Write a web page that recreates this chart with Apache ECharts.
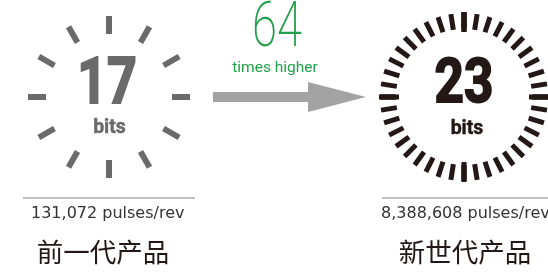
<!DOCTYPE html>
<html>
<head>
<meta charset="utf-8">
<script src="https://cdn.jsdelivr.net/npm/echarts@6/dist/echarts.min.js"></script>
<style>
  html, body { margin: 0; padding: 0; background: #fff; }
  #chart { width: 548px; height: 274px; }
</style>
</head>
<body>
<div id="chart"></div>
<script>
// data
var bits = [17, 23];
var tickCounts = [12, 40];
var pulses = ["131,072 pulses/rev", "8,388,608 pulses/rev"];
var products = ["前一代产品", "新世代产品"];
var ratio = ["64", "times higher"];

var green = "#23a04c";
var dark = "#231815";
var gray = "#6a6a6a";

var myChart = echarts.init(document.getElementById("chart"));

// one ring of ticks, drawn by a gauge with everything else switched off
function dial(center, radius, color, major, minor) {
  return {
    type: "gauge",
    center: center,
    radius: radius,
    startAngle: 90,
    endAngle: -270,
    min: 0,
    max: 100,
    splitNumber: major,
    animation: false,
    axisLine: { show: false, lineStyle: { width: 0 } },
    progress: { show: false },
    pointer: { show: false },
    axisLabel: { show: false },
    splitLine: {
      show: true,
      distance: 0,
      length: minor ? 20 : 18,
      lineStyle: { color: color, width: minor ? 5 : 6 },
    },
    axisTick: {
      show: !!minor,
      splitNumber: minor || 1,
      distance: 1,
      length: 16,
      lineStyle: { color: color, width: 5 },
    },
    title: { show: false },
    detail: { show: false },
    data: [{ value: 0 }],
  };
}

function bigNumber(x, y, value, color, size, sx) {
  return {
    type: "text", x: x, y: y, scaleX: sx,
    style: {
      text: String(value), fill: color, fontFamily: "Roboto", fontWeight: "bold",
      fontSize: size, align: "center", verticalAlign: "middle",
      stroke: color, lineWidth: 2,
    },
  };
}

function unit(x, y, color) {
  return {
    type: "text", x: x, y: y,
    style: {
      text: "bits", fill: color, fontFamily: "Roboto", fontWeight: "bold",
      fontSize: 19.5, align: "center", verticalAlign: "middle",
      stroke: color, lineWidth: 0.4,
    },
  };
}

function caption(x, y, text) {
  return {
    type: "text", x: x, y: y,
    style: { text: text, fill: "#333", fontFamily: "DejaVu Sans", fontSize: 16, verticalAlign: "middle" },
  };
}

var option = {
  backgroundColor: "#fff",
  series: [
    dial([109, 97], 81, gray, tickCounts[0], 0),
    dial([464, 97], 85, dark, 4, tickCounts[1] / 4),
  ],
  graphic: [
    bigNumber(107, 87, bits[0], gray, 65, 0.8),
    unit(109.5, 128, gray),
    bigNumber(464, 87, bits[1], dark, 61, 0.84),
    unit(467, 129, dark),
    // arrow
    {
      type: "polygon",
      shape: {
        points: [[213, 92], [308, 92], [308, 82], [366, 97], [308, 112], [308, 102], [213, 102]],
      },
      style: { fill: "#a3a3a3" },
    },
    {
      type: "text",
      x: 277, y: 30, scaleX: 0.72,
      style: {
        text: ratio[0], fill: green, fontFamily: "Roboto", fontWeight: 200,
        fontSize: 63, align: "center", verticalAlign: "middle",
      },
    },
    {
      type: "text",
      x: 275, y: 68,
      style: {
        text: ratio[1], fill: green, fontFamily: "Roboto",
        fontSize: 15.5, align: "center", verticalAlign: "middle",
      },
    },
    // rules
    { type: "line", shape: { x1: 23, y1: 198, x2: 195, y2: 198 }, style: { stroke: "#808080", lineWidth: 1 } },
    { type: "line", shape: { x1: 382, y1: 198, x2: 548, y2: 198 }, style: { stroke: "#808080", lineWidth: 1 } },
    caption(31, 214, pulses[0]),
    caption(381, 214, pulses[1]),
    {
      type: "text", x: 103, y: 252,
      style: { text: products[0], fill: dark, fontFamily: "Noto Sans CJK SC", fontSize: 26.5, align: "center", verticalAlign: "middle" },
    },
    {
      type: "text", x: 465, y: 252,
      style: { text: products[1], fill: dark, fontFamily: "Noto Sans CJK SC", fontSize: 26.5, align: "center", verticalAlign: "middle" },
    },
  ],
};

myChart.setOption(option);
</script>
</body>
</html>
